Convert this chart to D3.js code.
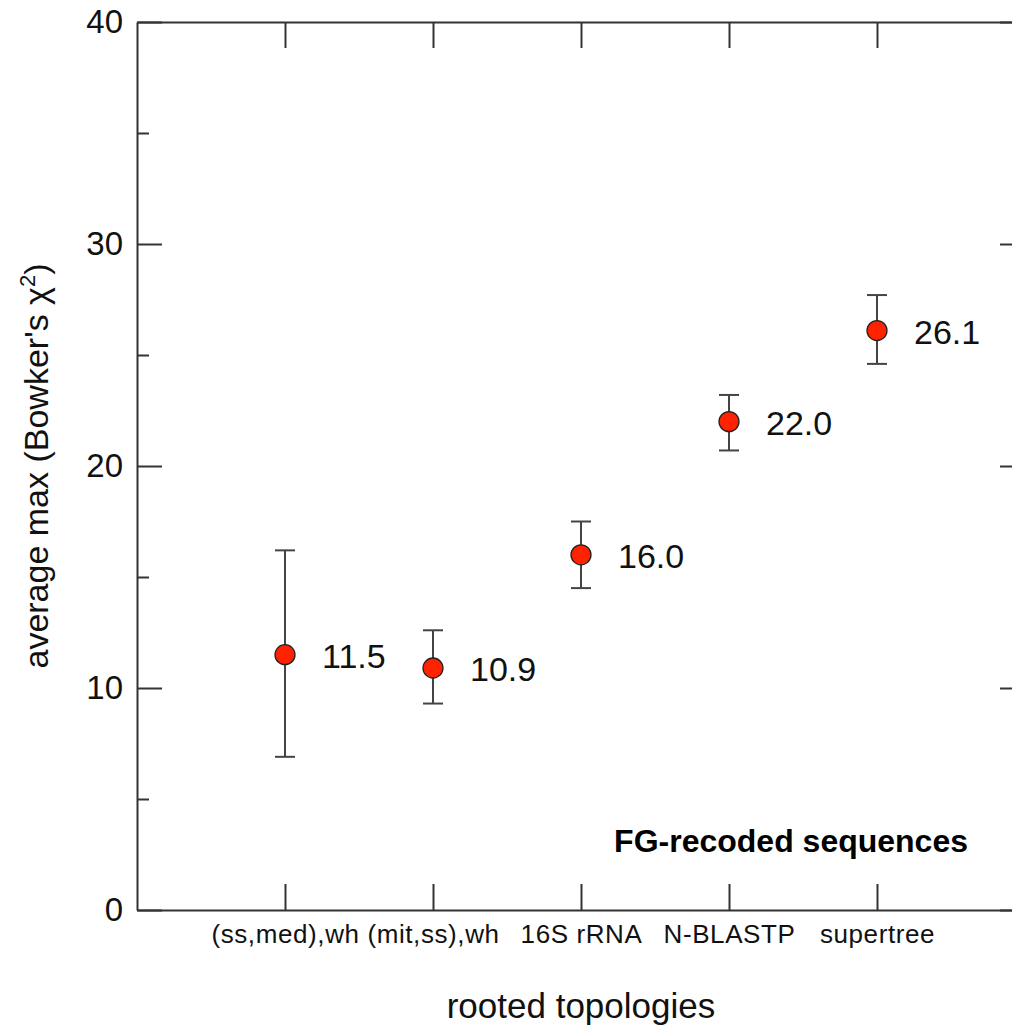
<!DOCTYPE html>
<html>
<head>
<meta charset="utf-8">
<script src="https://cdn.jsdelivr.net/npm/d3@7"></script>
<style>
  body { margin: 0; background: #fff; }
  text { font-family: "Liberation Sans", Arial, sans-serif; }
</style>
</head>
<body>
<div id="chart"></div>
<script>
// data
const categories = ['(ss,med),wh', '(mit,ss),wh', '16S rRNA', 'N-BLASTP', 'supertree'];
const means = [11.5, 10.9, 16.0, 22.0, 26.1];
const upper = [16.2, 12.6, 17.5, 23.2, 27.7];
const lower = [6.9, 9.3, 14.5, 20.7, 24.6];
const labels = ['11.5', '10.9', '16.0', '22.0', '26.1'];
const yTicks = [0, 10, 20, 30, 40];
const yMinor = [5, 15, 25, 35];

const boxWidth = 1012;
const boxHeight = 1029;
const margin = { top: 22, right: -13, bottom: 119, left: 137 };
const graphWidth = boxWidth - margin.left - margin.right;
const graphHeight = boxHeight - margin.top - margin.bottom;

const lineColor = '#333';

const svg = d3.select('#chart')
  .append('svg')
  .attr('width', boxWidth)
  .attr('height', boxHeight);

const graph = svg.append('g')
  .attr('transform', `translate(${margin.left}, ${margin.top})`);

// scales
const xScale = d3.scaleLinear()
  .domain([0, categories.length + 1])
  .range([0, graphWidth]);

const yScale = d3.scaleLinear()
  .domain([0, 40])
  .range([graphHeight, 0]);

const catIdx = categories.map((c, i) => i + 1);

// axes, ticks pointing inward
const styleAxis = (g) => {
  g.select('.domain').attr('stroke', lineColor).attr('stroke-width', 2);
  g.selectAll('line').attr('stroke', lineColor).attr('stroke-width', 2);
};

const xAxis = d3.axisBottom(xScale)
  .tickValues(catIdx)
  .tickSize(-26)
  .tickSizeOuter(0)
  .tickFormat((d) => categories[d - 1]);

const xAxisGroup = graph.append('g')
  .attr('transform', `translate(0, ${graphHeight})`)
  .call(xAxis)
  .call(styleAxis);

xAxisGroup.selectAll('text')
  .attr('y', 33)
  .attr('dy', 0)
  .attr('fill', '#111')
  .style('letter-spacing', '0.6px')
  .style('font-size', '26px');

graph.append('g')
  .call(d3.axisTop(xScale).tickValues(catIdx).tickSize(-26).tickSizeOuter(0).tickFormat(''))
  .call(styleAxis);

const yAxisGroup = graph.append('g')
  .call(d3.axisLeft(yScale).tickValues(yTicks).tickSize(-25).tickSizeOuter(0).tickPadding(14))
  .call(styleAxis);

yAxisGroup.selectAll('text')
  .attr('fill', '#111')
  .style('font-size', '33px');

graph.append('g')
  .call(d3.axisLeft(yScale).tickValues(yMinor).tickSize(-12).tickFormat(''))
  .call(styleAxis)
  .select('.domain').remove();

graph.append('g')
  .attr('transform', `translate(${graphWidth}, 0)`)
  .call(d3.axisRight(yScale).tickValues(yTicks).tickSize(-25).tickSizeOuter(0).tickFormat(''))
  .call(styleAxis);

graph.append('g')
  .attr('transform', `translate(${graphWidth}, 0)`)
  .call(d3.axisRight(yScale).tickValues(yMinor).tickSize(-12).tickFormat(''))
  .call(styleAxis)
  .select('.domain').remove();

// error bars
const bars = graph.append('g')
  .selectAll('g')
  .data(catIdx)
  .join('g')
  .attr('stroke', '#444')
  .attr('stroke-width', 2);

bars.append('line')
  .attr('x1', (d) => xScale(d))
  .attr('x2', (d) => xScale(d))
  .attr('y1', (d, i) => yScale(upper[i]))
  .attr('y2', (d, i) => yScale(lower[i]));

bars.append('line')
  .attr('x1', (d) => xScale(d) - 10)
  .attr('x2', (d) => xScale(d) + 10)
  .attr('y1', (d, i) => yScale(upper[i]))
  .attr('y2', (d, i) => yScale(upper[i]));

bars.append('line')
  .attr('x1', (d) => xScale(d) - 10)
  .attr('x2', (d) => xScale(d) + 10)
  .attr('y1', (d, i) => yScale(lower[i]))
  .attr('y2', (d, i) => yScale(lower[i]));

// points
graph.selectAll('circle')
  .data(catIdx)
  .join('circle')
  .attr('cx', (d) => xScale(d))
  .attr('cy', (d, i) => yScale(means[i]))
  .attr('r', 10)
  .attr('fill', '#ff2200')
  .attr('stroke', '#222')
  .attr('stroke-width', 1.3);

// value labels
graph.selectAll('.val')
  .data(catIdx)
  .join('text')
  .attr('class', 'val')
  .attr('x', (d) => xScale(d) + 37)
  .attr('y', (d, i) => yScale(means[i]) + 13)
  .attr('fill', '#111')
  .style('font-size', '34px')
  .text((d, i) => labels[i]);

// annotation
graph.append('text')
  .attr('x', 968 - margin.left)
  .attr('y', 852 - margin.top)
  .attr('text-anchor', 'end')
  .style('font-size', '32px')
  .style('font-weight', 'bold')
  .text('FG-recoded sequences');

// axis titles
svg.append('text')
  .attr('x', xScale(3) + margin.left)
  .attr('y', 1018)
  .attr('text-anchor', 'middle')
  .attr('fill', '#111')
  .style('font-size', '35px')
  .text('rooted topologies');

const yTitle = svg.append('text')
  .attr('transform', `translate(48, ${yScale(20) + margin.top}) rotate(-90)`)
  .attr('text-anchor', 'middle')
  .attr('fill', '#111')
  .style('font-size', '34px');
yTitle.append('tspan').text("average max (Bowker's \u03C7");
yTitle.append('tspan').attr('dy', -13).style('font-size', '22px').text('2');
yTitle.append('tspan').attr('dy', 13).text(')');
</script>
</body>
</html>
